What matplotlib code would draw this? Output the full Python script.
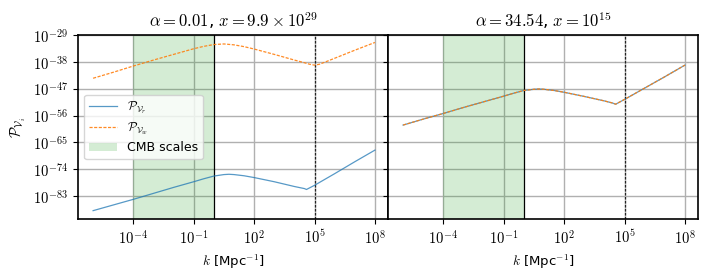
import numpy as np
import matplotlib
matplotlib.use("Agg")
import matplotlib.pyplot as plt
from matplotlib.ticker import FuncFormatter

plt.rcParams['mathtext.fontset'] = 'cm'
plt.rcParams['font.family'] = ['DejaVu Sans']
plt.rcParams['font.size'] = 10

# log10 k sample points
logk_left = [-6, -5, -4, -3, -2, -1, -0.5, 0, 0.5, 0.75, 1, 1.5, 2, 3, 4, 4.5, 4.6, 5, 6, 7, 8]
# log10 P for V_r (left panel, blue)
logP_r_left = [-87.9, -86.0, -84.1, -82.1, -80.1, -78.2, -77.2, -76.3, -75.8, -75.7, -75.8,
               -76.2, -76.8, -78.2, -79.8, -80.5, -80.8, -79.4, -75.5, -71.5, -67.6]
logk_left_w = [-6, -5, -4, -3, -2, -1, -0.5, 0, 0.5, 1, 1.5, 2, 3, 4, 4.5, 4.75, 5, 5.25, 6, 7, 8]
logP_w_left = [-43.5, -41.5, -39.4, -37.4, -35.5, -33.6, -32.8, -32.2, -32.0, -32.3, -32.9,
               -33.7, -35.5, -37.4, -38.3, -38.8, -39.1, -38.8, -36.8, -34.1, -31.5]

logk_right = [-6, -5, -4, -3, -2, -1, -0.5, 0, 0.5, 0.75, 1, 1.5, 2, 3, 4, 4.4, 4.56, 5, 6, 7, 8]
logP_right = [-59.2, -57.2, -55.3, -53.3, -51.4, -49.5, -48.5, -47.6, -47.2, -47.1, -47.2,
              -47.6, -48.2, -49.6, -51.1, -51.8, -52.2, -50.6, -46.8, -43.0, -39.1]

titles = [r'$\alpha = 0.01$, $x = 9.9 \times 10^{29}$', r'$\alpha = 34.54$, $x = 10^{15}$']
xticks = [1e-4, 1e-1, 1e2, 1e5, 1e8]
yticks = [1e-83, 1e-74, 1e-65, 1e-56, 1e-47, 1e-38, 1e-29]
cmb_range = (1e-4, 1.0)
k_solid = 1.0
k_dotted = 1e5

fmt = FuncFormatter(lambda v, p: r'$10^{%d}$' % int(round(np.log10(v))))

fig, axes = plt.subplots(1, 2, figsize=(7.11, 2.75), dpi=100, sharey=True)
fig.subplots_adjust(left=0.1097, right=0.9817, top=0.8727, bottom=0.2036, wspace=0.0)

panels = [
    (np.array(logk_left), np.array(logP_r_left), np.array(logk_left_w), np.array(logP_w_left)),
    (np.array(logk_right), np.array(logP_right), np.array(logk_right), np.array(logP_right)),
]

for ax, (kr, pr, kw, pw), title in zip(axes, panels, titles):
    ax.set_xscale('log')
    ax.set_yscale('log')
    ax.grid(True, which='major', color='#b0b0b0', lw=1.0, zorder=0)
    ax.set_axisbelow(True)
    ax.axvspan(*cmb_range, color='tab:green', alpha=0.2, lw=0, label='CMB scales', zorder=1)
    ax.axvline(k_solid, color='k', lw=0.9, zorder=2)
    ax.axvline(k_dotted, color='k', lw=0.9, alpha=0.8, ls=(0, (2, 1.2)), zorder=2)
    ax.plot(10.0 ** kr, 10.0 ** pr, color='tab:blue', lw=0.9, alpha=0.75,
            label=r'$\mathcal{P}_{\mathcal{V}_r}$', zorder=3)
    ax.plot(10.0 ** kw, 10.0 ** pw, color='tab:orange', lw=0.9, alpha=0.9, ls=(0, (2.5, 1.2)),
            label=r'$\mathcal{P}_{\mathcal{V}_w}$', zorder=4)
    ax.set_xlim(10 ** -6.75, 10 ** 8.65)
    ax.set_ylim(10 ** -90.7, 10 ** -29)
    ax.set_xticks(xticks)
    ax.set_yticks(yticks)
    ax.minorticks_off()
    ax.xaxis.set_major_formatter(fmt)
    ax.yaxis.set_major_formatter(fmt)
    ax.tick_params(labelsize=10.5)
    ax.set_title(title, fontsize=12)
    ax.set_xlabel(r'$k$ [Mpc$^{-1}$]', fontsize=9.5)
    for s in ax.spines.values():
        s.set_linewidth(1.2)

axes[0].set_ylabel(r'$\mathcal{P}_{\mathcal{V}_i}$', fontsize=10.5)
h, l = axes[0].get_legend_handles_labels()
order = [1, 2, 0]
axes[0].legend([h[i] for i in order], [l[i] for i in order], loc='center left', fontsize=9,
               handlelength=2.2, labelspacing=0.35)

fig.savefig('out.png', dpi=100)
